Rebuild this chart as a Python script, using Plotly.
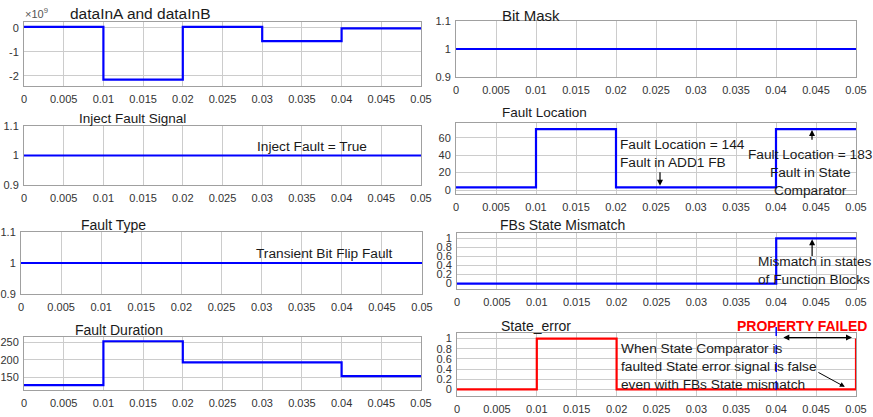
import plotly.graph_objects as go

# ---------------- data ----------------
time = [0, 0.01, 0.02, 0.03, 0.04, 0.05]
data_in_e9 = [0.05, -2.15, 0.05, -0.55, -0.02, -0.02]      # x 10^9
const_time = [0, 0.05]
bit_mask = [1, 1]
inject_fault = [1, 1]
fault_type = [1, 1]
fault_location = [3, 70, 3, 3, 70, 70]
fbs_mismatch = [0, 0, 0, 0, 1, 1]
fault_duration = [129, 253, 193, 193, 154, 154]
state_time = [0, 0.01, 0.02, 0.05, 0.05]
state_error = [0, 1, 0, 0, 1]

x_ticks = [0, 0.005, 0.01, 0.015, 0.02, 0.025, 0.03, 0.035, 0.04, 0.045, 0.05]
x_ticklabels = ["0", "0.005", "0.01", "0.015", "0.02", "0.025", "0.03", "0.035", "0.04", "0.045", "0.05"]

titles = ["dataInA and dataInB", "Bit Mask", "Inject Fault Signal", "Fault Location",
          "Fault Type", "FBs State Mismatch", "Fault Duration", "State_error"]

FONT = "Arial, Liberation Sans, sans-serif"
W, H = 873, 417

# panel geometry in pixels (left, right, top, bottom)
panels = [
    (24, 421, 22, 86),
    (456, 856, 21, 77),
    (24, 421, 126, 185),
    (456, 856, 123, 194),
    (21, 422, 232, 294),
    (457, 856, 233, 289),
    (24, 421, 337, 390),
    (457, 856, 333, 396),
]
# title positions (left x, centre y) in pixels
title_pos = [(68, 13), (500, 15), (77, 118), (500, 113), (79, 225), (498, 225), (73, 330), (499, 326)]
title_size = [15.5, 15, 13.5, 13.5, 14, 14, 14, 14]

series = [
    (time, data_in_e9, "#0000FF"),
    (const_time, bit_mask, "#0000FF"),
    (const_time, inject_fault, "#0000FF"),
    (time, fault_location, "#0000FF"),
    (const_time, fault_type, "#0000FF"),
    (time, fbs_mismatch, "#0000FF"),
    (time, fault_duration, "#0000FF"),
    (state_time, state_error, "#FF0000"),
]

y_cfg = [
    dict(range=[-2.42, 0.25], tickvals=[-2, -1, 0], ticktext=["-2", "-1", "0"]),
    dict(range=[0.9, 1.1], tickvals=[0.9, 1, 1.1], ticktext=["0.9", "1", "1.1"]),
    dict(range=[0.9, 1.1], tickvals=[0.9, 1, 1.1], ticktext=["0.9", "1", "1.1"]),
    dict(range=[-4.6, 77], tickvals=[0, 20, 40, 60], ticktext=["0", "20", "40", "60"]),
    dict(range=[0.9, 1.1], tickvals=[0.9, 1, 1.1], ticktext=["0.9", "1", "1.1"]),
    dict(range=[-0.12, 1.12], tickvals=[0, 0.2, 0.4, 0.6, 0.8, 1],
         ticktext=["0", "0.2", "0.4", "0.6", "0.8", "1"]),
    dict(range=[115, 265], tickvals=[150, 200, 250], ticktext=["150", "200", "250"]),
    dict(range=[-0.13, 1.11], tickvals=[0, 0.2, 0.4, 0.6, 0.8, 1],
         ticktext=["0", "0.2", "0.4", "0.6", "0.8", "1"]),
]

fig = go.Figure()
layout = {}
annotations = []
shapes = []

for i, ((l, r, t, b), (xs, ys, col), yc, title, (tx, ty), ts) in enumerate(
        zip(panels, series, y_cfg, titles, title_pos, title_size)):
    n = i + 1
    xa = "x" if n == 1 else f"x{n}"
    ya = "y" if n == 1 else f"y{n}"
    fig.add_trace(go.Scatter(x=xs, y=ys, mode="lines", line=dict(color=col, width=2.2, shape="hv"),
                             xaxis=xa, yaxis=ya, showlegend=False, hoverinfo="skip"))
    layout[f"xaxis{'' if n == 1 else n}"] = dict(
        domain=[l / W, r / W], anchor=ya, range=[0, 0.05], automargin=False,
        tickvals=x_ticks, ticktext=x_ticklabels,
        showgrid=True, gridcolor="#cccccc", gridwidth=1,
        showline=True, linecolor="#a0a0a0", linewidth=1, mirror=True,
        ticks="outside", ticklen=3, tickcolor="rgba(0,0,0,0)",
        tickfont=dict(family=FONT, size=11, color="#333333"), zeroline=False, fixedrange=True)
    layout[f"yaxis{'' if n == 1 else n}"] = dict(
        domain=[1 - b / H, 1 - t / H], anchor=xa, range=yc["range"], automargin=False,
        tickvals=yc["tickvals"], ticktext=yc["ticktext"],
        showgrid=True, gridcolor="#cccccc", gridwidth=1,
        showline=True, linecolor="#a0a0a0", linewidth=1, mirror=True,
        ticks="outside", ticklen=2, tickcolor="rgba(0,0,0,0)",
        tickfont=dict(family=FONT, size=11, color="#333333"), zeroline=False, fixedrange=True)
    annotations.append(dict(text=title, xref="paper", yref="paper",
                            x=tx / W, y=1 - ty / H, xanchor="left", yanchor="middle",
                            showarrow=False, font=dict(family=FONT, size=ts, color="#1a1a1a")))

# exponent label
annotations.append(dict(text="\u00d710<sup>9</sup>", xref="paper", yref="paper", x=23 / W, y=1 - 13 / H,
                        xanchor="left", yanchor="middle", showarrow=False,
                        font=dict(family=FONT, size=11, color="#555555")))

TF = dict(family=FONT, size=13.7, color="#1a1a1a")
ARW = dict(showarrow=True, arrowhead=2, arrowsize=1, arrowwidth=1.2, arrowcolor="#000000")

annotations.append(dict(text="Inject Fault = True", xref="x3", yref="y3", x=0.0291, y=1.03,
                        xanchor="left", yanchor="middle", showarrow=False, font=TF))
annotations.append(dict(text="Transient Bit Flip Fault", xref="x5", yref="y5", x=0.029, y=1.03,
                        xanchor="left", yanchor="middle", showarrow=False, font=TF))
annotations.append(dict(text="Fault Location = 144<br>Fault in ADD1 FB", xref="x4", yref="y4",
                        x=0.0203, y=42, xanchor="left", yanchor="middle", align="left",
                        showarrow=False, font=TF))
annotations.append(dict(text="", xref="x4", yref="y4", x=0.0255, y=5, ax=0.0255, ay=22,
                        axref="x4", ayref="y4", **ARW))
annotations.append(dict(text="Fault Location = 183<br>Fault in State<br>Comparator", xref="x4", yref="y4",
                        x=0.0443, y=20, xanchor="center", yanchor="middle", align="center",
                        showarrow=False, font=TF))
annotations.append(dict(text="", xref="x4", yref="y4", x=0.0445, y=69, ax=0.0445, ay=56,
                        axref="x4", ayref="y4", **ARW))
annotations.append(dict(text="Mismatch in states<br>of Function Blocks", xref="x6", yref="y6",
                        x=0.0375, y=0.28, xanchor="left", yanchor="middle", align="left",
                        showarrow=False, font=TF))
annotations.append(dict(text="", xref="x6", yref="y6", x=0.0445, y=0.98, ax=0.0445, ay=0.58,
                        axref="x6", ayref="y6", **ARW))
annotations.append(dict(text="When State Comparator is<br>faulted State error signal is false<br>even with FBs State mismatch",
                        xref="x8", yref="y8", x=0.0203, y=0.45, xanchor="left", yanchor="middle",
                        align="left", showarrow=False, font=TF))
annotations.append(dict(text="", xref="x8", yref="y8", x=0.0486, y=0.05, ax=0.0451, ay=0.35,
                        axref="x8", ayref="y8", showarrow=True, arrowhead=2, arrowsize=1,
                        arrowwidth=1.0, arrowcolor="#000000"))
annotations.append(dict(text="", xref="x8", yref="y8", x=0.0495, y=1.02, ax=0.0407,
                        ay=1.02, axref="x8", ayref="y8", showarrow=True,
                        arrowhead=2, startarrowhead=2, arrowside="end+start", arrowsize=1,
                        arrowwidth=1.2, arrowcolor="#000000"))
annotations.append(dict(text="<b>PROPERTY FAILED</b>", xref="paper", yref="paper", x=802 / W, y=1 - 326 / H,
                        xanchor="center", yanchor="middle", showarrow=False,
                        font=dict(family=FONT, size=14, color="#FF0000")))

shapes.append(dict(type="line", xref="x8", yref="paper", x0=0.04, x1=0.04, y0=1 - 390 / H, y1=1 - 319 / H,
                   line=dict(color="#0000FF", width=1.5, dash="dash")))

layout.update(dict(width=W, height=H, margin=dict(l=0, r=0, t=0, b=0, autoexpand=False),
                   paper_bgcolor="white", plot_bgcolor="white",
                   annotations=annotations, shapes=shapes, showlegend=False))
fig.update_layout(**layout)
fig.write_html("out.html", config={"displayModeBar": False},
               post_script="document.body.style.margin='0px';document.body.style.padding='0px';")
